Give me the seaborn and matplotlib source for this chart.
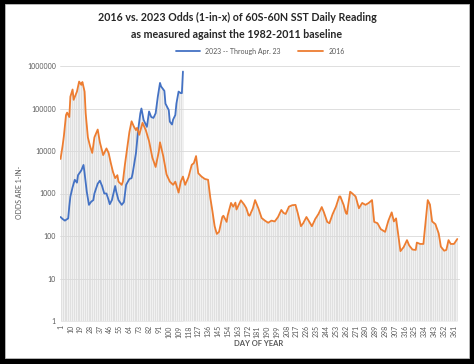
import numpy as np
import pandas as pd
import matplotlib
matplotlib.use("Agg")
import matplotlib.pyplot as plt
import seaborn as sns
from matplotlib.patches import Rectangle

# 2016 daily odds (1-in-x)
days_2016 = [1, 3, 4, 6, 7, 9, 10, 12, 13, 16, 18, 20, 21, 23, 24, 26, 28, 30, 32, 35,
             37, 40, 43, 45, 47, 49, 51, 53, 54, 57, 58, 60, 62, 64, 66, 68, 70, 71, 73, 76,
             79, 82, 85, 88, 91, 92, 95, 98, 101, 104, 106, 109, 111, 113, 115, 118, 121, 123, 125, 127,
             130, 133, 136, 138, 140, 142, 144, 146, 149, 150, 153, 154, 157, 159, 161, 162, 166, 169, 171, 173,
             174, 177, 179, 182, 185, 188, 191, 194, 197, 200, 203, 205, 207, 210, 213, 216, 218, 221, 223, 226,
             228, 231, 234, 237, 240, 242, 245, 247, 250, 253, 256, 257, 260, 262, 263, 266, 268, 271, 274, 277,
             280, 283, 286, 288, 291, 294, 297, 298, 301, 304, 306, 308, 312, 315, 318, 320, 323, 326, 327, 330,
             333, 337, 339, 341, 344, 347, 349, 352, 354, 356, 358, 361, 364]
odds_2016 = [6500, 14000, 22000, 70000, 80000, 63000, 190000, 280000, 160000, 250000, 430000, 360000, 420000, 250000, 77000, 21000, 13000, 9000, 21000, 32000,
             16000, 8000, 11500, 9000, 5200, 3200, 2300, 2700, 1900, 1600, 1900, 5000, 12000, 28000, 50000, 38000, 31000, 35000, 24000, 46000,
             31000, 17000, 7000, 4200, 10000, 16000, 7500, 2800, 1900, 1600, 1900, 1050, 1900, 2500, 1600, 2400, 4700, 5200, 7600, 3000,
             2500, 2200, 2100, 800, 380, 170, 112, 125, 280, 300, 215, 310, 600, 490, 610, 420, 690, 550, 450, 310,
             300, 450, 700, 450, 265, 230, 205, 230, 220, 280, 410, 350, 330, 490, 530, 540, 350, 170, 200, 280,
             230, 170, 250, 330, 480, 360, 215, 200, 330, 490, 850, 850, 540, 350, 330, 1100, 1000, 850, 450, 600,
             540, 600, 700, 215, 200, 145, 130, 125, 230, 360, 220, 260, 44, 55, 80, 60, 48, 47, 70, 65,
             65, 700, 550, 220, 190, 115, 56, 45, 47, 80, 65, 65, 85]

# 2023 daily odds through Apr. 23 (day 113)
days_2023 = [1, 3, 5, 8, 9, 10, 12, 14, 16, 17, 20, 22, 23, 25, 27, 29, 31, 32, 35, 37,
             39, 41, 43, 45, 46, 48, 51, 52, 54, 57, 59, 61, 64, 66, 67, 70, 72, 74, 75, 77,
             80, 82, 84, 86, 88, 90, 92, 93, 96, 97, 100, 101, 103, 104, 106, 107, 109, 111, 112, 113]
odds_2023 = [280, 250, 230, 260, 500, 850, 1400, 2100, 1800, 2700, 3500, 4700, 3000, 1100, 540, 640, 700, 1000, 1700, 2000,
             1500, 1000, 1000, 700, 560, 700, 1500, 1100, 700, 540, 630, 1600, 2200, 2300, 3000, 8900, 31000, 77000, 100000, 54000,
             37000, 85000, 63000, 60000, 77000, 190000, 400000, 330000, 260000, 130000, 92000, 49000, 42000, 55000, 70000, 130000, 250000, 230000, 230000, 740000]

tick_days = list(range(1, 367, 9))
y_ticks = [1, 10, 100, 1000, 10000, 100000, 1000000]

sns.set_style("white")
plt.rcParams["font.family"] = ["Lato", "DejaVu Sans"]

df16 = pd.DataFrame({"day": days_2016, "odds": odds_2016})
df23 = pd.DataFrame({"day": days_2023, "odds": odds_2023})

fig = plt.figure(figsize=(4.74, 3.64), dpi=100)
fig.patch.set_facecolor("black")
fig.patches.append(Rectangle((5 / 474, 6 / 364), 464 / 474, 354 / 364, transform=fig.transFigure,
                             facecolor="white", edgecolor="#bfbfbf", lw=0.6, zorder=-1))
ax = fig.add_axes([60 / 474, 43 / 364, 400 / 474, 255 / 364])
ax.set_zorder(2)
ax.set_facecolor("none")

# grey columns under the curves
ax.fill_between(df16["day"], 1, df16["odds"], color="#e0e0e0", lw=0, zorder=0.5)
ax.fill_between(df23["day"], 1, df23["odds"], color="#e0e0e0", lw=0, zorder=0.5)
ax.vlines(np.arange(0.5, 367, 2), 1, 1e6, color="white", lw=0.4, zorder=0.6)

sns.lineplot(data=df23, x="day", y="odds", color="#4472C4", lw=1.3, ax=ax,
             label="2023 -- Through Apr. 23", zorder=3)
sns.lineplot(data=df16, x="day", y="odds", color="#ED7D31", lw=1.3, ax=ax,
             label="2016", zorder=3)

ax.set_yscale("log")
ax.set_ylim(1, 1e6)
ax.set_xlim(0.5, 366.5)
ax.set_yticks(y_ticks)
ax.set_yticklabels([str(v) for v in y_ticks])
ax.yaxis.set_minor_locator(matplotlib.ticker.NullLocator())
ax.set_xticks(tick_days)
ax.set_xticklabels([str(d) for d in tick_days], rotation=90)
ax.tick_params(length=0, labelsize=5, colors="#595959", pad=3)
ax.yaxis.grid(True, color="#d9d9d9", lw=0.6)
ax.set_axisbelow(False)
for s in ax.spines.values():
    s.set_visible(False)
ax.set_xlabel("")
ax.set_ylabel("")

ax.legend(loc="lower center", bbox_to_anchor=(0.5, 1.02), ncol=2, frameon=False,
          fontsize=5, handlelength=3.5, columnspacing=2.5, labelcolor="#595959")

fig.text(0.5, 1 - 17 / 364, "2016 vs. 2023 Odds (1-in-x) of 60S-60N SST Daily Reading",
         ha="center", va="center", fontsize=7.7, fontweight="bold", color="#262626")
fig.text(0.5, 1 - 34 / 364, "as measured against the 1982-2011 baseline",
         ha="center", va="center", fontsize=7.7, fontweight="bold", color="#262626")
fig.text(19 / 474, 1 - 192 / 364, "ODDS ARE 1-IN-", rotation=90, ha="center", va="center",
         fontsize=5, color="#595959")
fig.text(259 / 474, 1 - 344 / 364, "DAY OF YEAR", ha="center", va="center",
         fontsize=5.5, fontweight="bold", color="#595959")

fig.savefig("out.png", dpi=100)
